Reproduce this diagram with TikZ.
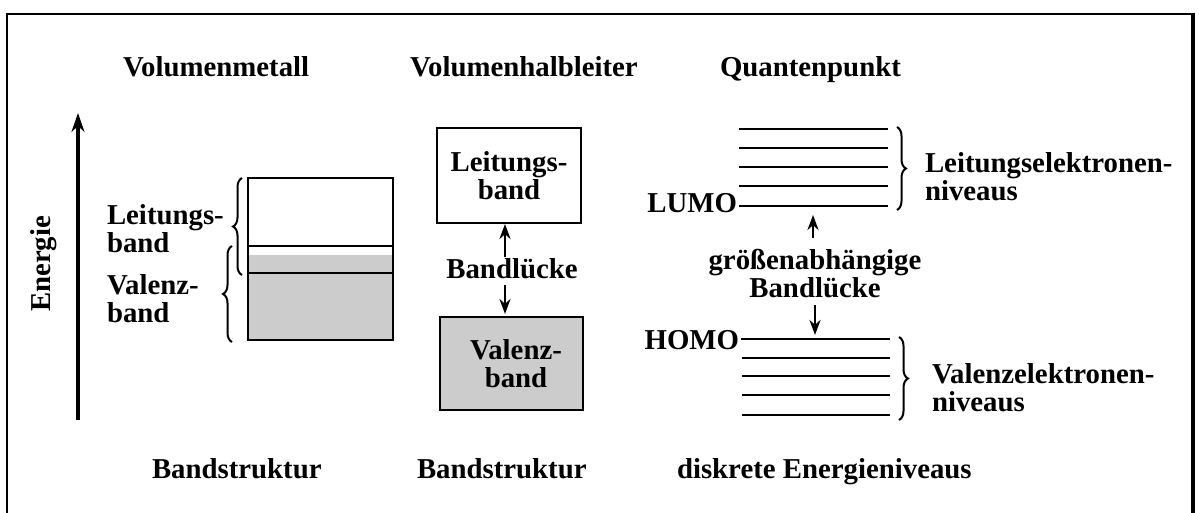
\documentclass[tikz,border=0pt]{standalone}
\usepackage{fontspec}
\setmainfont{Liberation Serif}
\usetikzlibrary{arrows.meta,decorations.pathreplacing}
\definecolor{bandfill}{HTML}{CCCCCC}
\begin{document}
\begin{tikzpicture}[x=1pt,y=-1pt,
  lbl/.style={font=\bfseries\fontsize{28.8}{28}\selectfont, inner sep=0pt, outer sep=0pt},
  boxline/.style={line width=2pt},
  lvl/.style={line width=2.2pt},
  gaparrow/.style={line width=2.6pt, -{Stealth[length=15pt,width=11pt]}},
  brc/.style={decorate, decoration={brace, amplitude=9pt}, line width=2pt}]
\useasboundingbox (0,0) rectangle (1199,513);
% frame
\draw[line width=2pt] (7,514) -- (7,14) -- (1193,14);
\draw[line width=3.5pt] (1193,13) -- (1193,514);

% headings
\node[lbl, anchor=base west] (h1) at (123,77) {Volumenmetall};
\node[lbl, anchor=base west] (h2) at (410,77) {Volumenhalbleiter};
\node[lbl, anchor=base west] (h3) at (720,77) {Quantenpunkt};
\node[lbl, anchor=base west] (f1) at (152,478) {Bandstruktur};
\node[lbl, anchor=base west] (f2) at (417,478) {Bandstruktur};
\node[lbl, anchor=base west] (f3) at (677,478) {diskrete Energieniveaus};

% energy axis
\coordinate (eBot) at (78,420);
\coordinate (eTop) at (78,113);
\draw[line width=3.2pt, -{Stealth[length=19pt,width=13pt]}] (eBot) -- (eTop);
\node[lbl, rotate=90, anchor=base] (energie) at (50,264) {Energie};

% metal
\fill[bandfill] (248,255) rectangle (393,340);
\draw[boxline] (248,178) rectangle (393,340);
\draw[boxline] (248,246) -- (393,246) (248,273) -- (393,273);
\draw[brc] (242,275) -- (242,178);
\draw[brc] (232,342) -- (232,246);
\node[lbl, anchor=north west, align=left] (mLB) at (107,204.5) {Leitungs-\\band};
\node[lbl, anchor=north west, align=left] (mVB) at (107,274.5) {Valenz-\\band};

% semiconductor
\node[lbl, draw, line width=2pt, minimum width=144pt, minimum height=95pt, align=center] (scLB) at (509,175.5) {Leitungs-\\band};
\node[draw, line width=2pt, fill=bandfill, minimum width=143pt, minimum height=93pt, inner sep=0pt] (scVB) at (511.5,363.5) {};
\node[lbl, align=center] (scVBt) at (516,364) {Valenz-\\band};
\node[lbl, anchor=base] (blk) at (512,278) {Bandlücke};
\draw[gaparrow, shorten <=1pt, shorten >=1pt] ([xshift=-7pt]blk.north) -- ([xshift=-7pt]blk.north |- scLB.south);
\draw[gaparrow, shorten <=7pt, shorten >=2pt] ([xshift=-7pt]blk.south) -- ([xshift=-7pt]blk.south |- scVB.north);

% quantum dot
\foreach \y in {129,148,167,186} \draw[lvl] (739,\y) -- (888,\y);
\coordinate (lumoL) at (739,206);
\coordinate (lumoR) at (888,206);
\node[lbl, anchor=base east] (lumo) at (737,213) {LUMO};
\draw[lvl] (lumoL) -- (lumoR);
\coordinate (homoL) at (741,339);
\coordinate (homoR) at (890,339);
\node[lbl, anchor=base east] (homo) at (739,349) {HOMO};
\draw[lvl] (homoL) -- (homoR);
\foreach \y in {358,376,395,415} \draw[lvl] (742,\y) -- (890,\y);
\node[lbl, anchor=north, align=center] (qgap) at (815,249.5) {größenabhängige\\Bandlücke};
\draw[gaparrow, shorten <=12pt, shorten >=9pt] ([xshift=-2pt]qgap.north) -- ([xshift=-2pt]qgap.north |- lumoR);
\draw[gaparrow, shorten <=7pt, shorten >=4pt] (qgap.south) -- (qgap.south |- homoR);
\draw[brc] (897,127) -- (897,210);
\draw[brc] (899,337) -- (899,420);
\node[lbl, anchor=north west, align=left] (qLB) at (925,152.5) {Leitungselektronen-\\niveaus};
\node[lbl, anchor=north west, align=left] (qVB) at (932,363.5) {Valenzelektronen-\\niveaus};
\end{tikzpicture}
\end{document}
